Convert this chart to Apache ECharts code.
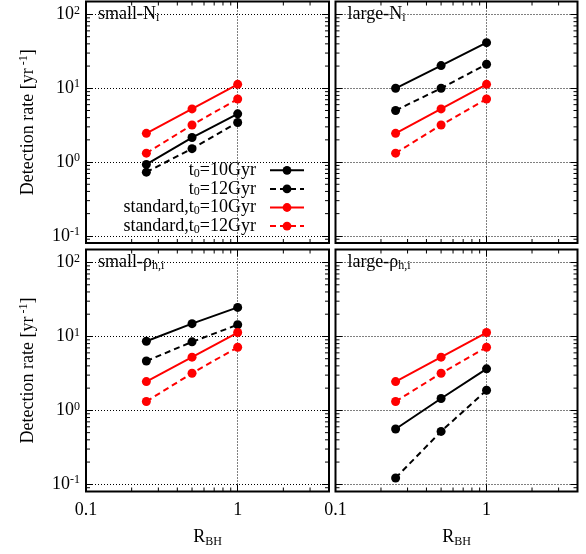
<!DOCTYPE html>
<html><head><meta charset="utf-8">
<script src="https://cdn.jsdelivr.net/npm/echarts@6/dist/echarts.min.js"></script>
<style>html,body{margin:0;padding:0;background:#fff}#c{width:586px;height:554px}</style>
</head><body><div id="c"></div>
<script>
// ---------- data ----------
const rBH = [0.25, 0.5, 1];
const seriesNames = ['t0=10Gyr', 't0=12Gyr', 'standard,t0=10Gyr', 'standard,t0=12Gyr'];
const panelLabels = ['small-N{sub|i}', 'large-N{sub|i}', 'small-ρ{sub|h,i}', 'large-ρ{sub|h,i}'];
const standard10 = [2.45, 5.25, 11.3];
const standard12 = [1.32, 3.18, 7.15];
const smallN10 = [0.93, 2.15, 4.5];
const smallN12 = [0.73, 1.52, 3.44];
const largeN10 = [10.0, 20.3, 41.5];
const largeN12 = [5.0, 10.0, 21.2];
const smallRho10 = [8.6, 14.9, 24.7];
const smallRho12 = [4.65, 8.45, 14.4];
const largeRho10 = [0.56, 1.45, 3.65];
const largeRho12 = [0.122, 0.52, 1.87];
const xRange = [0.1, 4];
const yRange = [0.08, 150];
const xMinorTicks = [0.2, 0.3, 0.4, 0.5, 0.6, 0.7, 0.8, 0.9, 2, 3];
const yMinorTicks = [0.09, 0.2, 0.3, 0.4, 0.5, 0.6, 0.7, 0.8, 0.9, 2, 3, 4, 5, 6, 7, 8, 9, 20, 30, 40, 50, 60, 70, 80, 90];
const xTitle = 'R{sub|BH}';
const yTitle = 'Detection rate [yr{sup| -1}]';

// ---------- layout ----------
const FONT = 'Liberation Serif';
const grids = [
  {left: 86, top: 1.5, width: 243, height: 241.5},
  {left: 335.5, top: 1.5, width: 242, height: 241.5},
  {left: 86, top: 249.5, width: 243, height: 242},
  {left: 335.5, top: 249.5, width: 242, height: 242}
];
const blacks = [[smallN10, smallN12], [largeN10, largeN12], [smallRho10, smallRho12], [largeRho10, largeRho12]];

const isPow10 = v => { const e = Math.round(Math.log10(v)); return Math.abs(v - Math.pow(10, e)) / v < 1e-6; };
const yLabelFmt = v => isPow10(v) ? '10{sup|' + Math.round(Math.log10(v)) + '}' : '';
const xLabelFmt = v => isPow10(v) ? String(v) : '';

const baseText = {fontFamily: FONT, fontSize: 18, color: '#000'};
const supRich = {sup: {fontFamily: FONT, fontSize: 12, color: '#000', lineHeight: 8, verticalAlign: 'top'}};
const subRich = {sub: {fontFamily: FONT, fontSize: 12, color: '#000', lineHeight: 4, verticalAlign: 'bottom'}};
const dotted = {color: '#000', width: 1, type: [1, 2]};

const xAxis = [], yAxis = [], series = [], title = [];
grids.forEach((g, i) => {
  const bottomRow = i >= 2, leftCol = i % 2 === 0;
  xAxis.push({
    type: 'log', gridIndex: i, min: xRange[0], max: xRange[1], position: 'bottom',
    axisLine: {show: false},
    axisTick: {show: true, inside: true, length: 7, lineStyle: {color: '#000', width: 1}},
    axisLabel: {show: bottomRow, formatter: xLabelFmt, margin: 10, ...baseText},
    splitLine: {show: true, lineStyle: dotted},
    name: bottomRow ? xTitle : '', nameLocation: 'middle', nameGap: 36,
    nameTextStyle: {...baseText, lineHeight: 20, rich: subRich}
  });
  yAxis.push({
    type: 'log', gridIndex: i, min: yRange[0], max: yRange[1], position: 'left',
    axisLine: {show: false},
    axisTick: {show: true, inside: true, length: 7, lineStyle: {color: '#000', width: 1}},
    axisLabel: {show: leftCol, formatter: yLabelFmt, margin: 6, ...baseText, lineHeight: 20, rich: supRich},
    splitLine: {show: true, lineStyle: dotted},
    name: leftCol ? yTitle : '', nameLocation: 'middle', nameRotate: 90, nameGap: 48,
    nameTextStyle: {...baseText, lineHeight: 20, rich: supRich}
  });
  title.push({
    text: panelLabels[i], left: g.left + 12, top: g.top + 2.5, padding: 0,
    textStyle: {...baseText, fontWeight: 'normal', lineHeight: 20, rich: subRich}
  });
  const sets = [blacks[i][0], blacks[i][1], standard10, standard12];
  sets.forEach((vals, k) => {
    const color = k < 2 ? '#000' : '#ff0000';
    series.push({
      name: seriesNames[k], type: 'line', xAxisIndex: i, yAxisIndex: i,
      data: rBH.map((x, j) => [x, vals[j]]),
      symbol: 'circle', symbolSize: 9, z: 5,
      lineStyle: {color, width: 2, type: k % 2 === 0 ? 'solid' : [6, 4]},
      itemStyle: {color}
    });
  });
  // minor ticks (values from arrays, positioned through the axes)
  series.push({
    type: 'custom', xAxisIndex: i, yAxisIndex: i, silent: true, z: 3,
    data: yMinorTicks.map(v => [1, v]),
    renderItem: (params, api) => {
      const cs = params.coordSys;
      const y = api.coord([1, api.value(1)])[1];
      return {type: 'group', children: [
        {type: 'line', shape: {x1: cs.x, y1: y, x2: cs.x + 4, y2: y}, style: {stroke: '#000', lineWidth: 1}},
        {type: 'line', shape: {x1: cs.x + cs.width, y1: y, x2: cs.x + cs.width - 4, y2: y}, style: {stroke: '#000', lineWidth: 1}}
      ]};
    }
  });
  series.push({
    type: 'custom', xAxisIndex: i, yAxisIndex: i, silent: true, z: 3,
    data: xMinorTicks.map(v => [v, 1]),
    renderItem: (params, api) => {
      const cs = params.coordSys;
      const x = api.coord([api.value(0), 1])[0];
      return {type: 'group', children: [
        {type: 'line', shape: {x1: x, y1: cs.y, x2: x, y2: cs.y + 4}, style: {stroke: '#000', lineWidth: 1}},
        {type: 'line', shape: {x1: x, y1: cs.y + cs.height, x2: x, y2: cs.y + cs.height - 4}, style: {stroke: '#000', lineWidth: 1}}
      ]};
    }
  });
});
// mirrored major ticks on top / right
grids.forEach((g, i) => {
  xAxis.push({
    type: 'log', gridIndex: i, min: xRange[0], max: xRange[1], position: 'top',
    axisLine: {show: false}, axisLabel: {show: false}, splitLine: {show: false},
    axisTick: {show: true, inside: true, length: 7, lineStyle: {color: '#000', width: 1}}
  });
  yAxis.push({
    type: 'log', gridIndex: i, min: yRange[0], max: yRange[1], position: 'right',
    axisLine: {show: false}, axisLabel: {show: false}, splitLine: {show: false},
    axisTick: {show: true, inside: true, length: 7, lineStyle: {color: '#000', width: 1}}
  });
});

const chart = echarts.init(document.getElementById('c'), null, {renderer: 'canvas'});
chart.setOption({
  animation: false,
  backgroundColor: '#fff',
  title,
  grid: grids.map(g => ({...g, show: true, borderColor: '#000', borderWidth: 2, backgroundColor: 'transparent'})),
  xAxis, yAxis, series,
  legend: {
    data: seriesNames, orient: 'vertical', align: 'right', right: 281, top: 161,
    padding: 0, itemGap: 0, itemWidth: 34, itemHeight: 11, selectedMode: false,
    formatter: n => n.replace('t0', 't{sub|0}'),
    textStyle: {...baseText, lineHeight: 18.6, padding: [0, 9, 0, 0], rich: subRich}
  }
});
</script></body></html>
